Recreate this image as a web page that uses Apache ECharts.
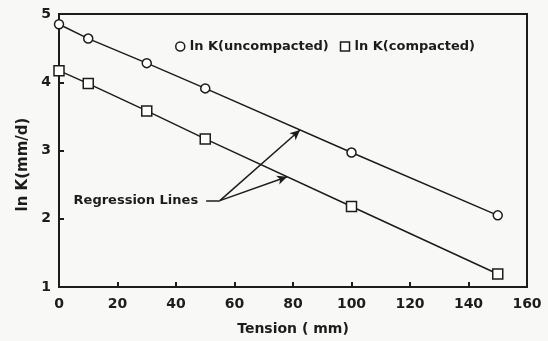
<!DOCTYPE html>
<html>
<head>
<meta charset="utf-8">
<script src="https://cdn.jsdelivr.net/npm/echarts@6/dist/echarts.min.js"></script>
<style>
  html, body { margin: 0; padding: 0; background: #f8f8f7; }
  #chart { width: 548px; height: 341px; }
</style>
</head>
<body>
<div id="chart"></div>
<script>
const tension = [0, 10, 30, 50, 100, 150];
const uncompacted = [4.85, 4.64, 4.28, 3.91, 2.97, 2.05];
const compacted = [4.17, 3.98, 3.58, 3.17, 2.18, 1.19];
const xTicks = [0, 20, 40, 60, 80, 100, 120, 140, 160];
const yTicks = [1, 2, 3, 4, 5];

const ink = '#1c1c1c';
const font = 'DejaVu Sans';

const chart = echarts.init(document.getElementById('chart'));

const pairs = (xs, ys) => xs.map((x, i) => [x, ys[i]]);

const option = {
    backgroundColor: '#f8f8f7',
    animation: false,
    textStyle: { fontFamily: font, color: ink, fontWeight: 'bold' },
    grid: {
        left: 59,
        right: 21,
        top: 14,
        bottom: 52,
        show: true,
        borderColor: ink,
        borderWidth: 2,
    },
    legend: {
        top: 35,
        left: 170,
        itemWidth: 9,
        itemHeight: 9,
        itemGap: 11,
        textStyle: { fontFamily: font, fontSize: 13, fontWeight: 'bold', color: ink },
        data: [
            { name: 'ln K(uncompacted)', icon: 'circle', itemStyle: { color: '#fff', borderColor: ink, borderWidth: 1.5 } },
            { name: 'ln K(compacted)', icon: 'rect', itemStyle: { color: '#fff', borderColor: ink, borderWidth: 1.5 } },
        ],
    },
    xAxis: {
        type: 'value',
        min: 0,
        max: 160,
        interval: 20,
        name: 'Tension ( mm)',
        nameLocation: 'middle',
        nameGap: 35,
        nameTextStyle: { fontFamily: font, fontSize: 14, fontWeight: 'bold', color: ink },
        axisLine: { show: true, lineStyle: { color: ink, width: 2 } },
        axisTick: { show: true, inside: true, length: 5, lineStyle: { color: ink, width: 2 } },
        axisLabel: { fontSize: 14, color: ink, margin: 10, fontWeight: 'bold',
            formatter: v => (xTicks.includes(v) ? String(v) : '') },
        splitLine: { show: false },
    },
    yAxis: {
        type: 'value',
        min: 1,
        max: 5,
        interval: 1,
        name: 'ln K(mm/d)',
        nameLocation: 'middle',
        nameGap: 22,
        nameTextStyle: { fontFamily: font, fontSize: 15, fontWeight: 'bold', color: ink, padding: [0, 28, 0, 0] },
        axisLine: { show: true, lineStyle: { color: ink, width: 2 } },
        axisTick: { show: true, inside: true, length: 5, lineStyle: { color: ink, width: 2 } },
        axisLabel: { fontSize: 14, color: ink, margin: 8, fontWeight: 'bold',
            formatter: v => (yTicks.includes(v) ? String(v) : '') },
        splitLine: { show: false },
    },
    series: [
        {
            name: 'ln K(uncompacted)',
            type: 'line',
            data: pairs(tension, uncompacted),
            symbol: 'circle',
            symbolSize: 9,
            lineStyle: { color: ink, width: 1.5 },
            itemStyle: { color: '#fff', borderColor: ink, borderWidth: 1.5 },
            z: 3,
            markLine: {
                silent: true,
                symbol: ['none', 'arrow'],
                symbolSize: [7, 10],
                lineStyle: { color: ink, width: 1.5, type: 'solid' },
                label: { show: false },
                data: [
                    [{ coord: [55, 2.265] }, { coord: [82.4, 3.30] }],
                    [{ coord: [55, 2.265] }, { coord: [78, 2.615] }],
                    [
                        { coord: [50.3, 2.265], symbol: 'none',
                          label: { show: true, position: 'start', formatter: 'Regression Lines',
                                   fontFamily: font, fontSize: 13, fontWeight: 'bold', color: ink, distance: 8 } },
                        { coord: [55, 2.265], symbol: 'none' },
                    ],
                ],
            },
        },
        {
            name: 'ln K(compacted)',
            type: 'line',
            data: pairs(tension, compacted),
            symbol: 'rect',
            symbolSize: 10,
            lineStyle: { color: ink, width: 1.5 },
            itemStyle: { color: '#fff', borderColor: ink, borderWidth: 1.5 },
            z: 3,
        },
    ],
};

chart.setOption(option);
</script>
</body>
</html>
